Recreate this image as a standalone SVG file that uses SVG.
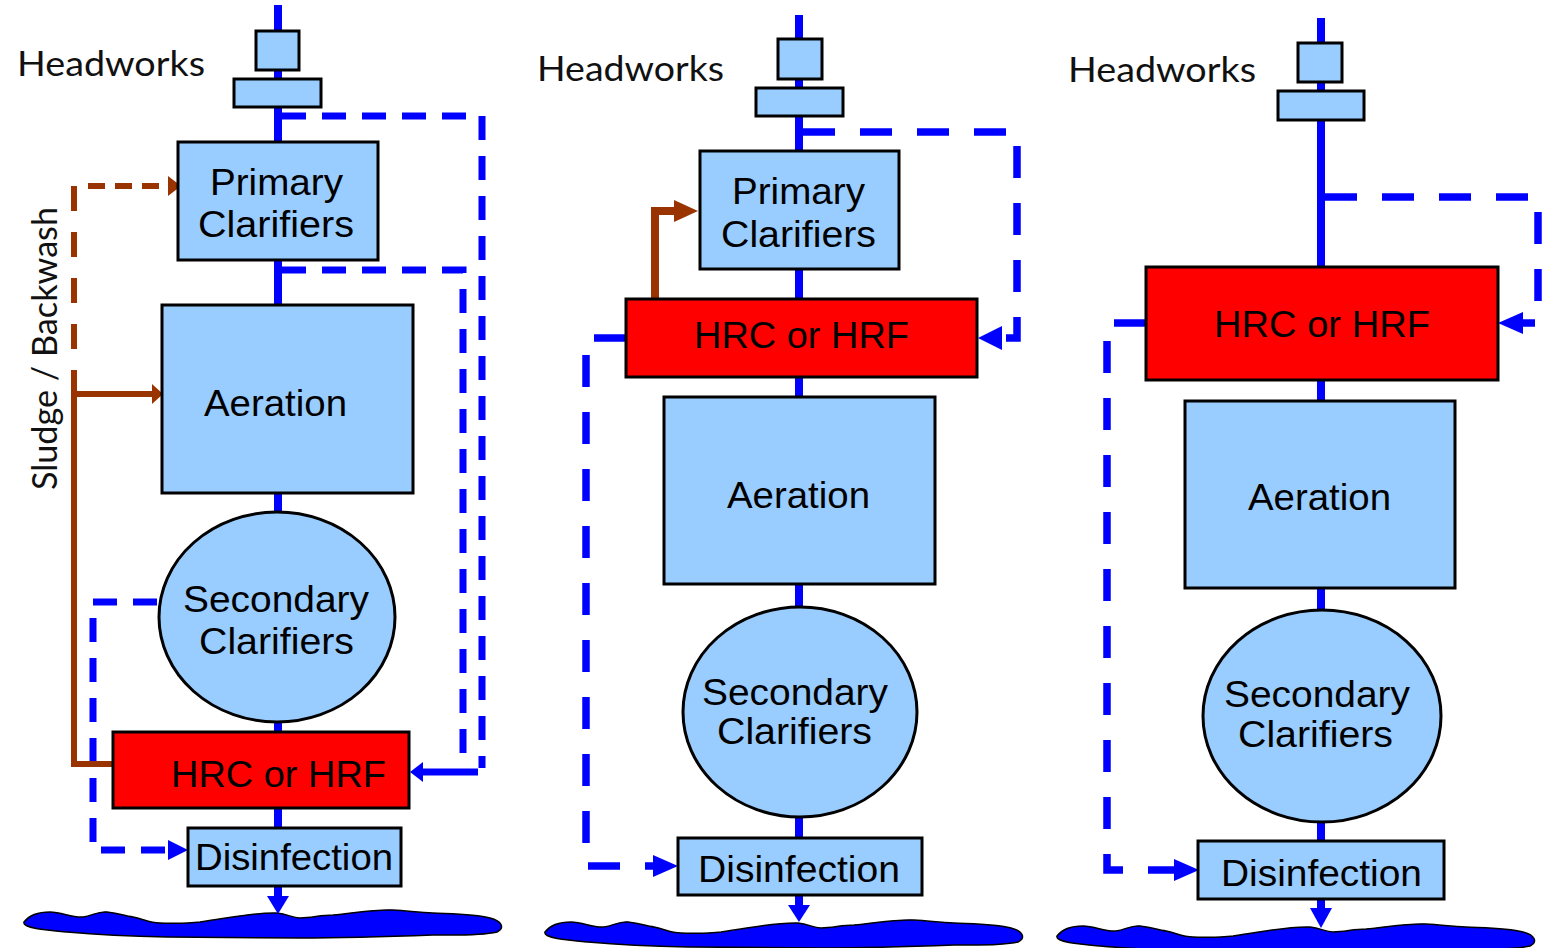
<svg xmlns="http://www.w3.org/2000/svg" xmlns:xlink="http://www.w3.org/1999/xlink" width="1547" height="948" viewBox="0 0 1547 948">
<style>
.box{fill:#99CCFF;stroke:#000;stroke-width:3}
.red{fill:#FF0000;stroke:#000;stroke-width:3}
.lbl{font-family:"Liberation Sans",Arial,sans-serif;font-size:36px;fill:#000}
.cal{font-family:Lato,"Open Sans",sans-serif;font-size:34px;fill:#111}
.main{stroke:#0000FF;stroke-width:8;fill:none}
.dl{stroke:#0000FF;stroke-width:7;fill:none;stroke-dasharray:24 16}
.dm{stroke:#0000FF;stroke-width:7.5;fill:none;stroke-dasharray:32 25}
.sb{stroke:#0000FF;stroke-width:7;fill:none}
.ah{fill:#0000FF}
.br{stroke:#993300;stroke-width:6;fill:none}
.brm{stroke:#993300;stroke-width:8;fill:none}
.bah{fill:#993300}
.water{fill:#0000FF;stroke:#000;stroke-width:1.5}
</style>
<defs>
<path id="wave" d="M24,922 C30,914 42,912 50,912 C62,912 72,918 83,917 C92,916 98,911 107,912 C117,913 125,916 133,917 C143,919 150,923 160,923 C175,924 185,923 200,922 C230,918 255,912 277,913 C288,914 292,918 300,918 C312,918 320,915 333,915 C355,913 375,909 393,910 C410,911 420,913 433,913 C455,914 475,914 490,918 C502,921 505,928 497,932 C480,936 450,935 433,935 C380,937 340,938 300,938 C250,938 200,937 167,937 C120,936 90,934 67,932 C45,930 22,928 24,922 Z"/>
</defs>

<g id="water">
<use xlink:href="#wave" class="water"/>
<use xlink:href="#wave" class="water" transform="translate(521,10)"/>
<use xlink:href="#wave" class="water" transform="translate(1033,14)"/>
</g>

<g id="connectors">
<!-- left panel -->
<path class="main" d="M278,5 V898"/>
<polygon class="ah" points="267,896 289,896 278,914"/>
<path class="dl" d="M282,116 H482 V768"/>
<path class="dl" d="M282,270 H463 V768"/>
<path class="sb" d="M478,772 H420"/>
<polygon class="ah" points="410,772 423,762 423,782"/>
<path class="dl" d="M157,602 H93 V850 H172"/>
<polygon class="ah" points="188,850 168,840 168,860"/>
<path class="br" d="M74,186 V372" style="stroke-dasharray:25 21"/>
<path class="br" d="M88,186 H168" style="stroke-dasharray:17 10"/>
<polygon class="bah" points="181,186 168,176 168,196"/>
<path class="br" d="M74,370 V764 H113"/>
<path class="br" d="M74,394 H155"/>
<polygon class="bah" points="163,394 152,384 152,404"/>

<!-- middle panel -->
<path class="main" d="M799,15 V907"/>
<polygon class="ah" points="788,905 810,905 799,922"/>
<path class="dm" d="M803,132 H1017 V338 H1003"/>
<polygon class="ah" points="978,338 1002,326 1002,350"/>
<path class="dm" d="M626,338 H586 V866 H656"/>
<polygon class="ah" points="678,866 653,855 653,877"/>
<path class="brm" d="M655,299 V211 H676"/>
<polygon class="bah" points="698,211 674,200 674,222"/>

<!-- right panel -->
<path class="main" d="M1321,18 V910"/>
<polygon class="ah" points="1310,908 1332,908 1321,928"/>
<path class="dm" d="M1325,197 H1538 V323 H1523"/>
<polygon class="ah" points="1498,323 1523,312 1523,334"/>
<path class="dm" d="M1146,323 H1107 V870 H1176"/>
<polygon class="ah" points="1199,870 1174,859 1174,881"/>
</g>

<g id="labels">
<text class="cal" x="17" y="76" textLength="188" lengthAdjust="spacingAndGlyphs">Headworks</text>
<text class="cal" x="537" y="81" textLength="187" lengthAdjust="spacingAndGlyphs">Headworks</text>
<text class="cal" x="1068" y="82" textLength="188" lengthAdjust="spacingAndGlyphs">Headworks</text>
<text class="cal" transform="translate(57,490) rotate(-90)" x="0" y="0" textLength="283" lengthAdjust="spacingAndGlyphs">Sludge / Backwash</text>
</g>

<!-- left panel nodes -->
<g id="L-headworks-1"><rect class="box" x="256" y="31" width="43" height="39"/></g>
<g id="L-headworks-2"><rect class="box" x="234" y="79" width="87" height="28"/></g>
<g id="L-primary"><rect class="box" x="178" y="142" width="200" height="118"/>
<text class="lbl" x="210" y="195" textLength="133" lengthAdjust="spacingAndGlyphs">Primary</text>
<text class="lbl" x="198" y="237" textLength="156" lengthAdjust="spacingAndGlyphs">Clarifiers</text></g>
<g id="L-aeration"><rect class="box" x="162" y="305" width="251" height="188"/>
<text class="lbl" x="204" y="416" textLength="143" lengthAdjust="spacingAndGlyphs">Aeration</text></g>
<g id="L-secondary"><ellipse class="box" cx="277" cy="617" rx="118" ry="105"/>
<text class="lbl" x="183" y="612" textLength="186" lengthAdjust="spacingAndGlyphs">Secondary</text>
<text class="lbl" x="199" y="654" textLength="155" lengthAdjust="spacingAndGlyphs">Clarifiers</text></g>
<g id="L-hrc"><rect class="red" x="113" y="732" width="296" height="76"/>
<text class="lbl" x="171" y="787" textLength="215" lengthAdjust="spacingAndGlyphs">HRC or HRF</text></g>
<g id="L-disinfection"><rect class="box" x="188" y="828" width="213" height="58"/>
<text class="lbl" x="195" y="870" textLength="198" lengthAdjust="spacingAndGlyphs">Disinfection</text></g>

<!-- middle panel nodes -->
<g id="M-headworks-1"><rect class="box" x="778" y="39" width="44" height="40"/></g>
<g id="M-headworks-2"><rect class="box" x="756" y="88" width="87" height="28"/></g>
<g id="M-primary"><rect class="box" x="700" y="151" width="199" height="118"/>
<text class="lbl" x="732" y="204" textLength="133" lengthAdjust="spacingAndGlyphs">Primary</text>
<text class="lbl" x="721" y="247" textLength="155" lengthAdjust="spacingAndGlyphs">Clarifiers</text></g>
<g id="M-hrc"><rect class="red" x="626" y="299" width="351" height="78"/>
<text class="lbl" x="694" y="348" textLength="215" lengthAdjust="spacingAndGlyphs">HRC or HRF</text></g>
<g id="M-aeration"><rect class="box" x="664" y="397" width="271" height="187"/>
<text class="lbl" x="727" y="508" textLength="143" lengthAdjust="spacingAndGlyphs">Aeration</text></g>
<g id="M-secondary"><ellipse class="box" cx="800" cy="712" rx="117" ry="105"/>
<text class="lbl" x="702" y="705" textLength="186" lengthAdjust="spacingAndGlyphs">Secondary</text>
<text class="lbl" x="717" y="744" textLength="155" lengthAdjust="spacingAndGlyphs">Clarifiers</text></g>
<g id="M-disinfection"><rect class="box" x="678" y="838" width="244" height="57"/>
<text class="lbl" x="698" y="882" textLength="202" lengthAdjust="spacingAndGlyphs">Disinfection</text></g>

<!-- right panel nodes -->
<g id="R-headworks-1"><rect class="box" x="1298" y="43" width="44" height="39"/></g>
<g id="R-headworks-2"><rect class="box" x="1278" y="91" width="86" height="29"/></g>
<g id="R-hrc"><rect class="red" x="1146" y="267" width="352" height="113"/>
<text class="lbl" x="1214" y="337" textLength="216" lengthAdjust="spacingAndGlyphs">HRC or HRF</text></g>
<g id="R-aeration"><rect class="box" x="1185" y="401" width="270" height="187"/>
<text class="lbl" x="1248" y="510" textLength="143" lengthAdjust="spacingAndGlyphs">Aeration</text></g>
<g id="R-secondary"><ellipse class="box" cx="1322" cy="716" rx="119" ry="106"/>
<text class="lbl" x="1224" y="707" textLength="186" lengthAdjust="spacingAndGlyphs">Secondary</text>
<text class="lbl" x="1238" y="747" textLength="155" lengthAdjust="spacingAndGlyphs">Clarifiers</text></g>
<g id="R-disinfection"><rect class="box" x="1198" y="841" width="246" height="58"/>
<text class="lbl" x="1221" y="886" textLength="201" lengthAdjust="spacingAndGlyphs">Disinfection</text></g>
</svg>
